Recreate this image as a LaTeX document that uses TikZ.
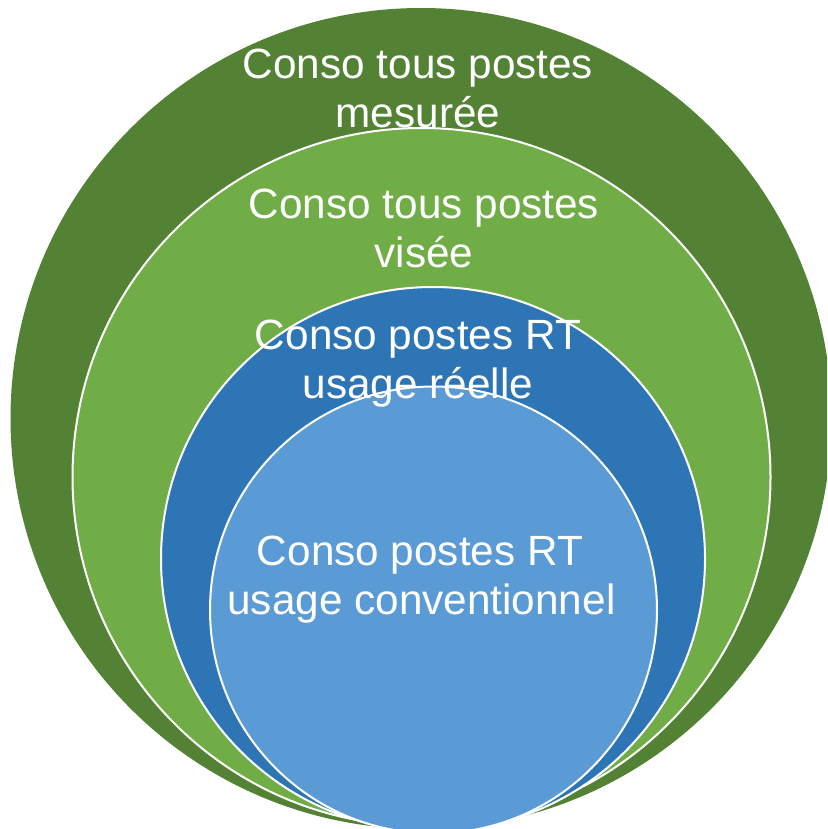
\documentclass[tikz,border=0pt]{standalone}
\usepackage{fontspec}
\setmainfont{Liberation Sans}
\definecolor{darkgreen}{HTML}{548235}
\definecolor{lightgreen}{HTML}{70AD47}
\definecolor{darkblue}{HTML}{2E75B6}
\definecolor{lightblue}{HTML}{5B9BD5}
\tikzset{
  ring/.style={circle, inner sep=0pt, draw=white, line width=2pt},
  lbl/.style={anchor=base, text=white, inner sep=0pt, font=\fontsize{42.3}{48.6}\selectfont}
}
\begin{document}
\begin{tikzpicture}[x=1pt,y=-1pt]
\useasboundingbox (0,0) rectangle (827,829);
\clip (0,0) rectangle (827,829);
\node[ring, fill=darkgreen, draw=none, minimum size=821pt] (c1) at (421,418.5) {};
\node[ring, fill=lightgreen, minimum size=698pt] (c2) at (421.5,477) {};
\node[ring, fill=darkblue, minimum size=544pt] (c3) at (433,559) {};
\node[ring, fill=lightblue, minimum size=447pt] (c4) at (433.5,610) {};
\node[lbl] (t1a) at (418,79) {Conso tous postes};
\node[lbl] (t1b) at (418,128) {mesurée};
\node[lbl] (t2a) at (424,218) {Conso tous postes};
\node[lbl] (t2b) at (424,267.5) {visée};
\node[lbl] (t3a) at (418,349) {Conso postes RT};
\node[lbl] (t3b) at (418,398) {usage réelle};
\node[lbl] (t4a) at (420,565) {Conso postes RT};
\node[lbl] (t4b) at (421.5,614.5) {usage conventionnel};
\end{tikzpicture}
\end{document}
